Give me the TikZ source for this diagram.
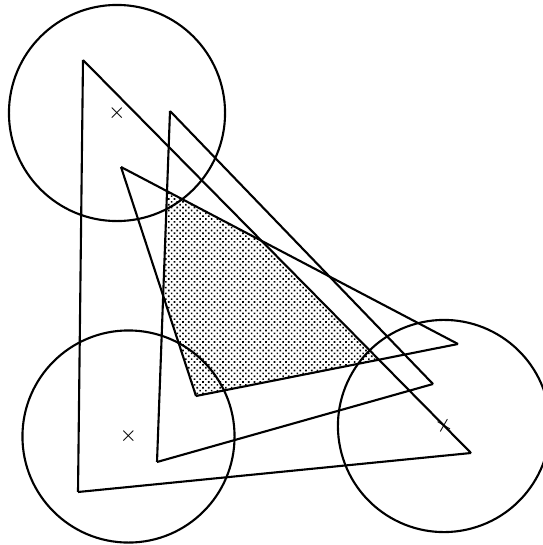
\documentclass[tikz,border=0pt]{standalone}
\usetikzlibrary{patterns.meta}
\begin{document}
\begin{tikzpicture}[x=0.01cm, y=-0.01cm, line width=0.6pt,
    disc/.style={circle, draw, minimum size=#1, inner sep=0pt,
      font=\fontsize{3.6}{3.6}\selectfont}]
    \useasboundingbox (0,0) rectangle (543,545);
    % Wierzchołki

    \coordinate (bigtop) at (83,60);
    \coordinate (bigleft) at (78,492);
    \coordinate (bigright) at (471,453);
    \coordinate (midtop) at (170,111);
    \coordinate (midleft) at (157,462);
    \coordinate (midright) at (433,384);
    \coordinate (smalltop) at (121,167);
    \coordinate (smallbottom) at (196,396);
    \coordinate (smallright) at (458,344);

    % Zakreskowanie

    \begin{scope}
      \clip (bigtop) -- (bigleft) -- (bigright) -- cycle;
      \clip (midtop) -- (midleft) -- (midright) -- cycle;
      \fill[pattern={Dots[distance=1.15pt, radius=0.33pt, angle=45]}]
        (smalltop) -- (smallbottom) -- (smallright) -- cycle;
    \end{scope}

    % Krawędzie

    \draw (bigtop) -- (bigleft);
    \draw (bigleft) -- (bigright);
    \draw (bigright) -- (bigtop);
    \draw (midtop) -- (midleft);
    \draw (midleft) -- (midright);
    \draw (midright) -- (midtop);
    \draw (smalltop) -- (smallbottom);
    \draw (smallbottom) -- (smallright);
    \draw (smallright) -- (smalltop);

    % Koła

    \node[disc=2.16cm] (upper) at (117,113) {$\times$};
    \node[disc=2.12cm] (lowerleft) at (128.5,436.5) {$\times$};
    \node[disc=2.12cm, rotate=15] (lowerright) at (444,426) {$\times$};

\end{tikzpicture}
\end{document}
